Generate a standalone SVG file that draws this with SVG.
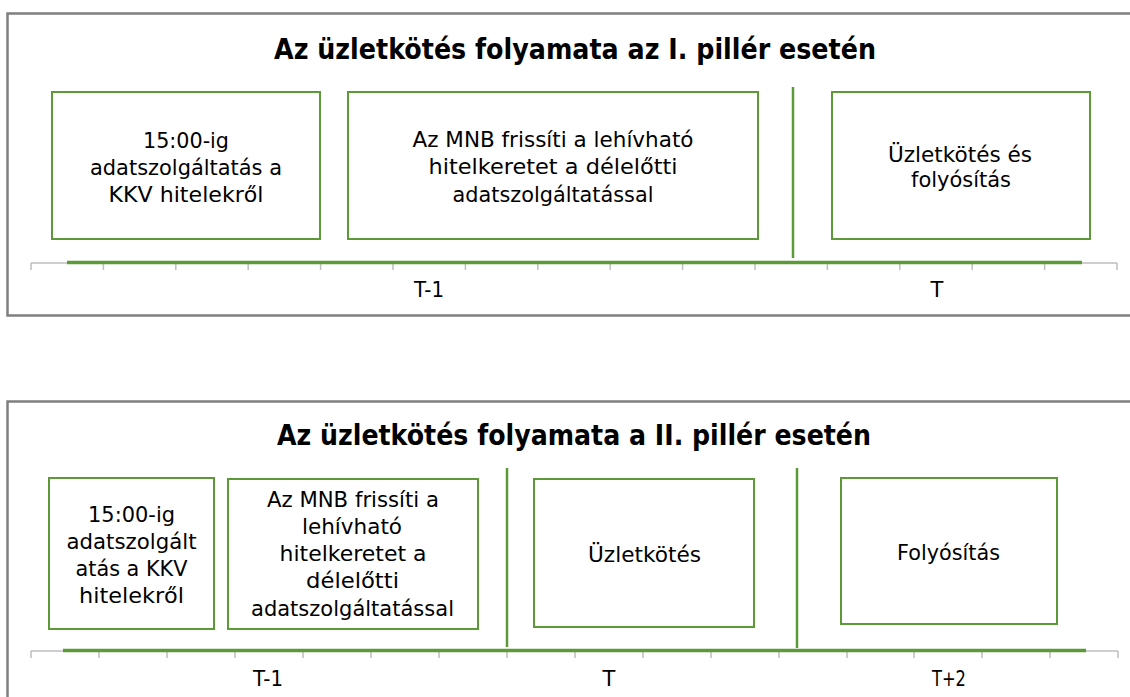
<svg xmlns="http://www.w3.org/2000/svg" width="1130" height="697" viewBox="0 0 1130 697">
<style>
.panel{fill:#fff;stroke:#7f7f7f;stroke-width:2.5}
.box{fill:#fff;stroke:#5b9a36;stroke-width:2}
.sep{stroke:#5b9a36;stroke-width:2.5}
.axis{stroke:#bfbfbf;stroke-width:1.5;fill:none}
.bar{stroke:#5b9a36;stroke-width:3.5}
.title{font-family:"DejaVu Sans",Verdana,sans-serif;font-weight:bold;font-size:28.5px;fill:#000;text-anchor:middle}
.t{font-family:"DejaVu Sans",Verdana,sans-serif;font-size:21.5px;fill:#000;text-anchor:middle}
.lbl{font-family:"DejaVu Sans",Verdana,sans-serif;font-size:21px;fill:#000;text-anchor:middle}
</style>
<rect width="1130" height="697" fill="#fff"/>

<!-- Panel 1 -->
<g id="panel1">
<rect class="panel" x="7.5" y="13.5" width="1130" height="302"/>
<text class="title" x="575" y="59" textLength="602" lengthAdjust="spacingAndGlyphs">Az üzletkötés folyamata az I. pillér esetén</text>
</g>
<g id="p1-box1">
<rect class="box" x="52" y="92" width="268" height="147"/>
<text class="t" x="186" y="148" textLength="86" lengthAdjust="spacingAndGlyphs">15:00-ig</text>
<text class="t" x="186" y="175" textLength="192" lengthAdjust="spacingAndGlyphs">adatszolgáltatás a</text>
<text class="t" x="186" y="202" textLength="155" lengthAdjust="spacingAndGlyphs">KKV hitelekről</text>
</g>
<g id="p1-box2">
<rect class="box" x="348" y="92" width="410" height="147"/>
<text class="t" x="553" y="147" textLength="281" lengthAdjust="spacingAndGlyphs">Az MNB frissíti a lehívható</text>
<text class="t" x="553" y="174" textLength="249" lengthAdjust="spacingAndGlyphs">hitelkeretet a délelőtti</text>
<text class="t" x="553" y="202" textLength="201" lengthAdjust="spacingAndGlyphs">adatszolgáltatással</text>
</g>
<g id="p1-box3">
<rect class="box" x="832" y="92" width="258" height="147"/>
<text class="t" x="960" y="162" textLength="144" lengthAdjust="spacingAndGlyphs">Üzletkötés és</text>
<text class="t" x="961" y="187" textLength="100" lengthAdjust="spacingAndGlyphs">folyósítás</text>
</g>
<g id="p1-timeline">
<path class="axis" d="M31 263H1117 M31 263v7 M103.4 263v7 M175.8 263v7 M248.2 263v7 M320.6 263v7 M393 263v7 M465.4 263v7 M537.8 263v7 M610.2 263v7 M682.6 263v7 M755 263v7 M827.4 263v7 M899.8 263v7 M972.2 263v7 M1044.6 263v7 M1117 263v7"/>
<line class="bar" x1="67" y1="262.5" x2="1082" y2="262.5"/>
<line class="sep" x1="793" y1="87" x2="793" y2="258"/>
<text class="lbl" x="429" y="297" textLength="30" lengthAdjust="spacingAndGlyphs">T-1</text>
<text class="lbl" x="937" y="297">T</text>
</g>

<!-- Panel 2 -->
<g id="panel2">
<rect class="panel" x="7.5" y="401.5" width="1130" height="310"/>
<text class="title" x="574" y="445" textLength="594" lengthAdjust="spacingAndGlyphs">Az üzletkötés folyamata a II. pillér esetén</text>
</g>
<g id="p2-box1">
<rect class="box" x="49" y="478" width="165" height="151"/>
<text class="t" x="131.5" y="522" textLength="87" lengthAdjust="spacingAndGlyphs">15:00-ig</text>
<text class="t" x="131.5" y="549" textLength="130" lengthAdjust="spacingAndGlyphs">adatszolgált</text>
<text class="t" x="131.5" y="576" textLength="112" lengthAdjust="spacingAndGlyphs">atás a KKV</text>
<text class="t" x="131.5" y="603" textLength="105" lengthAdjust="spacingAndGlyphs">hitelekről</text>
</g>
<g id="p2-box2">
<rect class="box" x="228" y="479" width="250" height="150"/>
<text class="t" x="353" y="507" textLength="172" lengthAdjust="spacingAndGlyphs">Az MNB frissíti a</text>
<text class="t" x="352" y="534" textLength="100" lengthAdjust="spacingAndGlyphs">lehívható</text>
<text class="t" x="353" y="561" textLength="147" lengthAdjust="spacingAndGlyphs">hitelkeretet a</text>
<text class="t" x="352.5" y="588" textLength="93" lengthAdjust="spacingAndGlyphs">délelőtti</text>
<text class="t" x="352.5" y="616" textLength="203" lengthAdjust="spacingAndGlyphs">adatszolgáltatással</text>
</g>
<g id="p2-box3">
<rect class="box" x="534" y="479" width="220" height="148"/>
<text class="t" x="644.5" y="562" textLength="113" lengthAdjust="spacingAndGlyphs">Üzletkötés</text>
</g>
<g id="p2-box4">
<rect class="box" x="841" y="478" width="216" height="146"/>
<text class="t" x="948.5" y="560" textLength="103" lengthAdjust="spacingAndGlyphs">Folyósítás</text>
</g>
<g id="p2-timeline">
<path class="axis" d="M31 651H1118 M31 651v7 M99 651v7 M167 651v7 M235 651v7 M303 651v7 M371 651v7 M439 651v7 M507 651v7 M575 651v7 M643 651v7 M711 651v7 M779 651v7 M847 651v7 M914 651v7 M982 651v7 M1050 651v7 M1118 651v7"/>
<line class="bar" x1="63" y1="650.5" x2="1086" y2="650.5"/>
<line class="sep" x1="507" y1="468" x2="507" y2="647"/>
<line class="sep" x1="797" y1="468" x2="797" y2="648"/>
<text class="lbl" x="268" y="686" textLength="30" lengthAdjust="spacingAndGlyphs">T-1</text>
<text class="lbl" x="609" y="686">T</text>
<text class="lbl" x="949" y="686" textLength="34" lengthAdjust="spacingAndGlyphs">T+2</text>
</g>
</svg>
